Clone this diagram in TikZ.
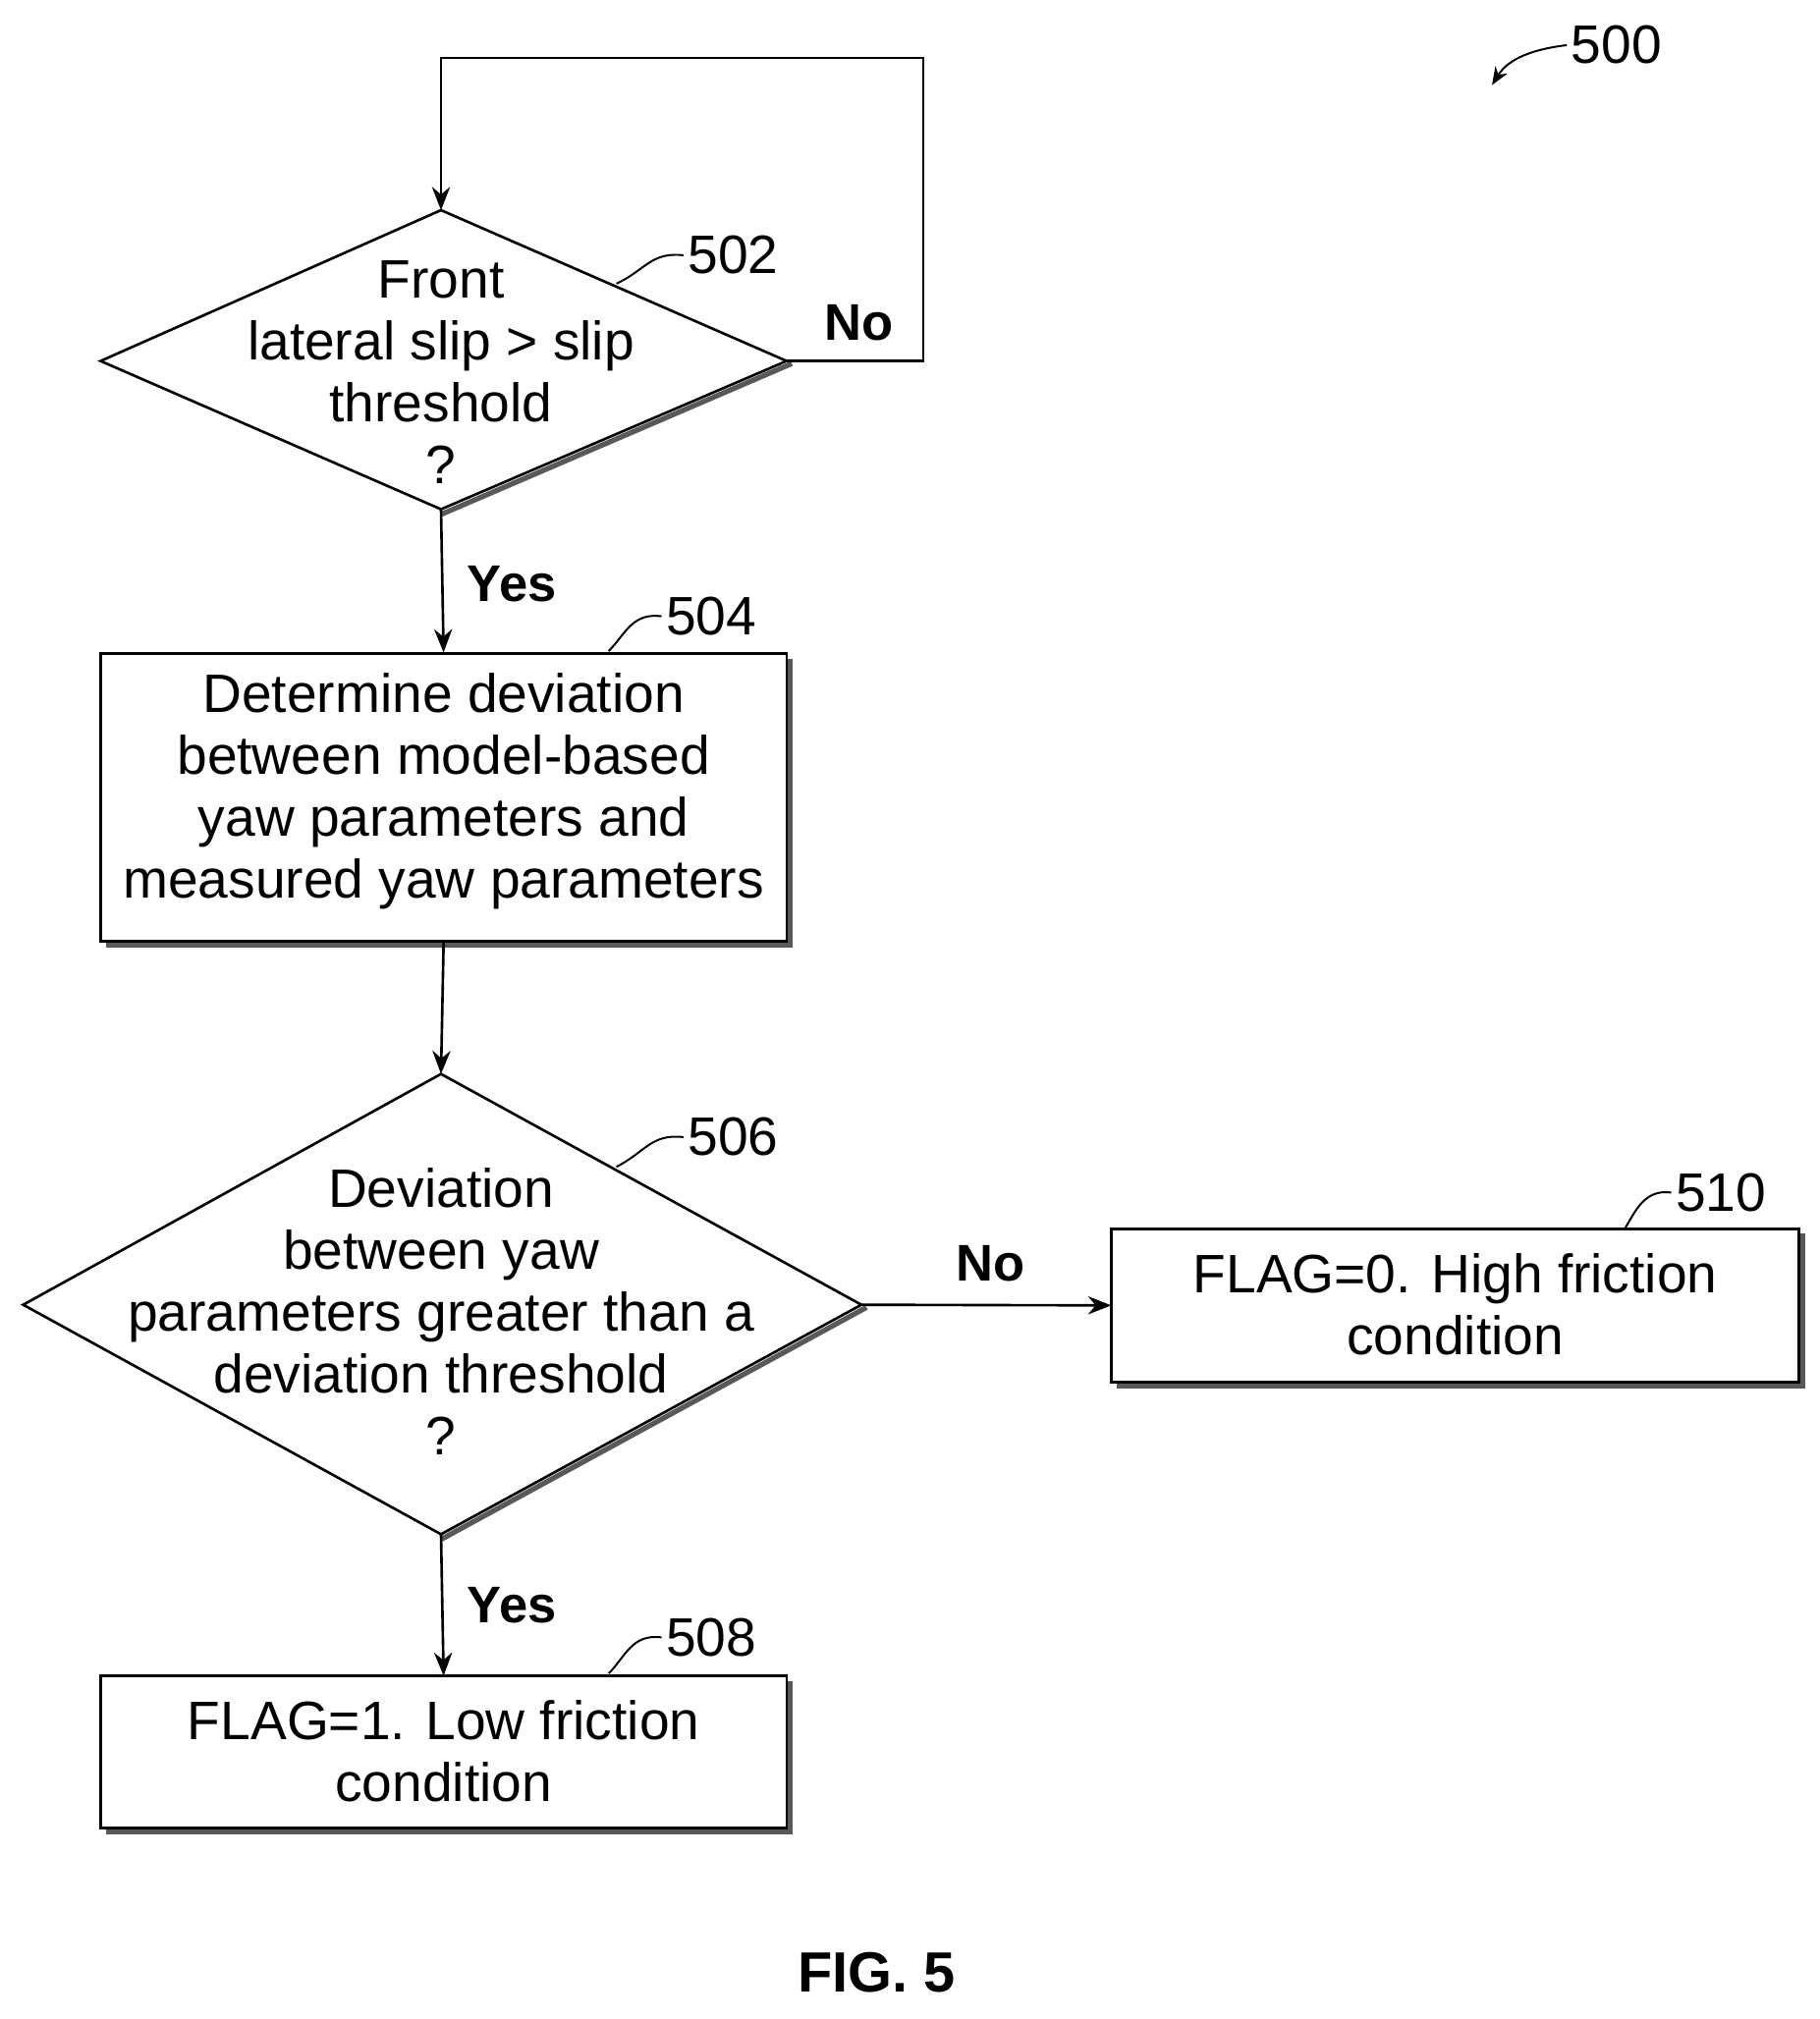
\documentclass[tikz,border=0pt]{standalone}
\usepackage{fontspec}
\setmainfont{Liberation Sans}
\usetikzlibrary{shapes.geometric,arrows.meta}
\begin{document}
\begin{tikzpicture}[x=1pt,y=-1pt,
  every node/.style={font=\fontsize{42}{50}\selectfont},
  box/.style={draw,line width=2pt,minimum width=532pt,align=center,inner sep=0pt},
  sh/.style={draw=gray!70!black,line width=4pt},
  arr/.style={line width=2pt,-{Stealth[length=18pt,width=14pt]}},
  lbl/.style={font=\fontsize{42}{50}\selectfont},
  yn/.style={font=\fontsize{40}{48}\selectfont\bfseries}]
\useasboundingbox (0,0) rectangle (1411,1566);
% diamond 502
\coordinate (d1t) at (342,163); \coordinate (d1b) at (342,395);
\coordinate (d1l) at (78,280); \coordinate (d1r) at (610,280);
\draw[sh] (342,399) -- (614,282);
\draw[line width=2pt,fill=white] (d1t)--(d1r)--(d1b)--(d1l)--cycle;
\node (t1) at (342,289) [align=center] {Front\\[-2pt]lateral slip > slip\\[-2pt]threshold\\[-2pt]?};
% box 504
\draw[sh] (82,733) -- (613,733) -- (613,511);
\draw[line width=2pt] (78,507) rectangle (610,730);
\node[box,minimum height=223pt] (b504) at (344,618.5) {};
\node at (344,614) [align=center] {Determine deviation\\[-2pt]between model-based\\[-2pt]yaw parameters and\\[-2pt]measured yaw parameters};
% diamond 506
\coordinate (d2t) at (342,833); \coordinate (d2b) at (342,1190);
\coordinate (d2l) at (18,1012); \coordinate (d2r) at (668,1012);
\draw[sh] (342,1194) -- (672,1014);
\draw[line width=2pt,fill=white] (d2t)--(d2r)--(d2b)--(d2l)--cycle;
\node (t2) at (342,1017) [align=center] {Deviation\\[-2pt]between yaw\\[-2pt]parameters greater than a\\[-2pt]deviation threshold\\[-2pt]?};
% box 510
\draw[sh] (866,1075) -- (1398,1075) -- (1398,957);
\draw[line width=2pt] (862,953) rectangle (1395,1072);
\node[minimum width=533pt,minimum height=119pt,inner sep=0pt] (b510) at (1128.5,1012.5) {};
\node at (1128.5,1012) [align=center] {FLAG=0. High friction\\[-2pt]condition};
% box 508
\draw[sh] (82,1421) -- (613,1421) -- (613,1304);
\draw[line width=2pt] (78,1300) rectangle (610,1418);
\node[minimum width=532pt,minimum height=118pt,inner sep=0pt] (b508) at (344,1359) {};
\node at (344,1358) [align=center] {FLAG=1. Low friction\\[-2pt]condition};
% connectors
\coordinate (c1) at (716,280); \coordinate (c2) at (716,45); \coordinate (c3) at (342,45);
\draw[arr] (d1r) -- (c1) -- (c2) -- (c3) -- (d1t);
\draw[arr] (d1b) -- (b504.north);
\draw[arr] (b504.south) -- (d2t);
\draw[arr] (d2r) -- (b510.west);
\draw[arr] (d2b) -- (b508.north);
\node[yn] at (666,250) {No};
\node[yn] at (397,453) {Yes};
\node[yn] at (768,980) {No};
\node[yn] at (397,1245) {Yes};
% reference labels
\node[lbl,anchor=west] (l502) at (530,198) {502};
\draw[line width=1.5pt] (l502.west) .. controls (505,195) and (500,210) .. (478,220);
\node[lbl,anchor=west] (l504) at (513,478) {504};
\draw[line width=1.5pt] (l504.west) .. controls (490,475) and (485,492) .. (472,505);
\node[lbl,anchor=west] (l506) at (530,882) {506};
\draw[line width=1.5pt] (l506.west) .. controls (505,879) and (500,894) .. (478,905);
\node[lbl,anchor=west] (l510) at (1296,925) {510};
\draw[line width=1.5pt] (l510.west) .. controls (1275,922) and (1268,940) .. (1260,953);
\node[lbl,anchor=west] (l508) at (513,1270) {508};
\draw[line width=1.5pt] (l508.west) .. controls (490,1267) and (485,1285) .. (472,1298);
\node[lbl,anchor=west] (l500) at (1215,35) {500};
\coordinate (a500) at (1157,66);
\draw[line width=1.5pt,-{Stealth[length=14pt,width=11pt]}] (l500.west) .. controls (1190,38) and (1170,45) .. (a500);
\node[font=\fontsize{44}{50}\selectfont\bfseries] (fig) at (680,1530) {FIG. 5};
\end{tikzpicture}
\end{document}
